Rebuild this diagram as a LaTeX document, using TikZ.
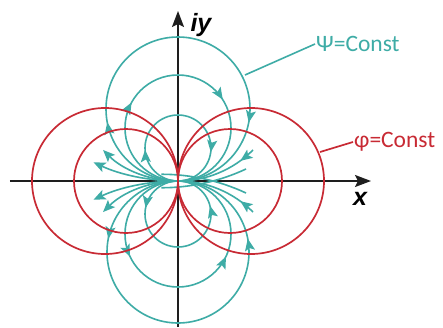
\documentclass[tikz,border=0pt]{standalone}
\usepackage{fontspec}
\setmainfont{Carlito}
\newfontfamily\axfont{Liberation Sans}
\usetikzlibrary{arrows.meta,decorations.markings}
\definecolor{teal1}{RGB}{62,172,166}
\definecolor{red1}{RGB}{200,42,52}
\definecolor{ax}{RGB}{30,30,30}
\tikzset{
  cyanline/.style={draw=teal1,line width=1.6pt},
  redline/.style={draw=red1,line width=1.7pt},
  axisline/.style={draw=ax,line width=1.7pt,-{Stealth[length=16pt,width=12pt,inset=3pt]}},
  tip/.style={-{Stealth[length=12pt,width=10pt,inset=2.5pt]}},
  marks/.style 2 args={postaction={decorate,decoration={markings,
      mark=at position #1 with {\arrow{Stealth[length=12pt,width=10pt,inset=2.5pt,teal1]}},
      mark=at position #2 with {\arrow{Stealth[length=12pt,width=10pt,inset=2.5pt,teal1]}}}}},
  mark1/.style={postaction={decorate,decoration={markings,
      mark=at position #1 with {\arrow{Stealth[length=12pt,width=10pt,inset=2.5pt,teal1]}}}}},
}
\begin{document}
\begin{tikzpicture}[x=1pt,y=1pt]
\useasboundingbox[fill=white] (-178,-146) rectangle (265,181);
\coordinate (O) at (0,0);
% axes
\coordinate (xs) at (-168,0); \coordinate (xe) at (193,0);
\coordinate (ys) at (0,-146); \coordinate (ye) at (0,170);
\draw[axisline] (xs) -- (xe);
\draw[axisline] (ys) -- (ye);
\node[font=\axfont\bfseries\itshape\fontsize{25}{25}\selectfont,anchor=west] (iy) at (9,156) {iy};
\node[font=\axfont\bfseries\itshape\fontsize{25}{25}\selectfont] (xl) at (182,-18) {x};
% cyan circles, upper (clockwise from origin, left first)
\draw[cyanline,marks={0.22}{0.78}] (O) arc[start angle=270,end angle=-90,radius=72];
\draw[cyanline,marks={0.33}{0.66}] (O) arc[start angle=270,end angle=-90,radius=53];
\draw[cyanline,marks={0.24}{0.77}] (O) arc[start angle=270,end angle=-90,radius=33];
% cyan circles, lower
\draw[cyanline,marks={0.22}{0.78}] (O) arc[start angle=90,end angle=450,radius=71];
\draw[cyanline,marks={0.32}{0.68}] (O) arc[start angle=90,end angle=450,radius=53];
\draw[cyanline,marks={0.22}{0.79}] (O) arc[start angle=90,end angle=450,radius=33];
% streamlines
\draw[cyanline,tip] (O) arc[start angle=270,end angle=225,radius=106];
\draw[cyanline,tip] (O) arc[start angle=270,end angle=245,radius=200];
\draw[cyanline,mark1=0.2] (O) ++(75,31) coordinate (s1) arc[start angle=315,end angle=270,radius=106];
\draw[cyanline] (O) ++(68,12) coordinate (s2) arc[start angle=295,end angle=270,radius=200];
\draw[cyanline,tip] (O) arc[start angle=90,end angle=135,radius=106];
\draw[cyanline,tip] (O) arc[start angle=90,end angle=115,radius=200];
\draw[cyanline,mark1=0.2] (O) ++(75,-31) coordinate (s3) arc[start angle=45,end angle=90,radius=106];
\draw[cyanline] (O) ++(68,-12) coordinate (s4) arc[start angle=65,end angle=90,radius=200];
% red circles
\draw[redline] (73,0) circle[radius=73];
\draw[redline] (52,0) circle[radius=52];
\draw[redline] (-73,0) circle[radius=73];
\draw[redline] (-52,0) circle[radius=52];
% labels
\coordinate (c1) at (67,106);
\node[anchor=west,text=teal1,font=\fontsize{23.5}{23.5}\selectfont,inner sep=1pt] (psi) at (137,137) {Ψ=Const};
\draw[cyanline] (c1) -- (psi.west);
\coordinate (c2) at (142,29);
\node[anchor=west,text=red1,font=\fontsize{23.5}{23.5}\selectfont,inner sep=1pt] (phi) at (175,39) {φ=Const};
\draw[redline] (c2) -- (phi.west);
\end{tikzpicture}
\end{document}
